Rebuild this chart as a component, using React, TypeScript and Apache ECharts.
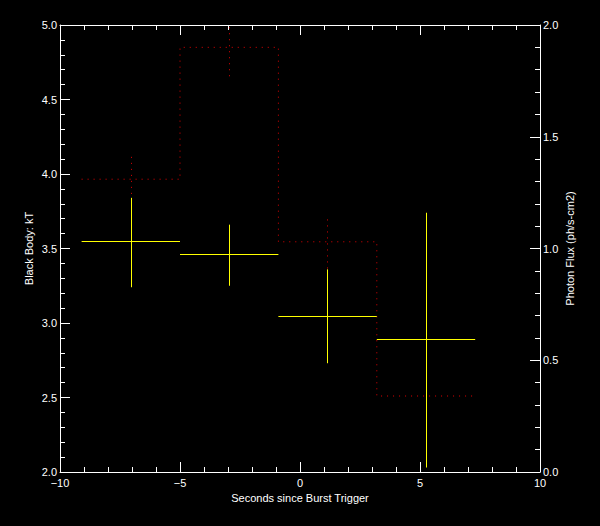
import React, { useEffect, useRef } from "react";
import * as echarts from "echarts";

// Time bins (seconds since burst trigger)
const binStart = [-9.1, -5.0, -0.9, 3.2];
const binEnd = [-5.0, -0.9, 3.2, 7.3];
const binCenter = [-7.03, -2.96, 1.12, 5.25];

// Black body kT (left axis)
const kT = [3.55, 3.46, 3.05, 2.89];
const kTLow = [3.24, 3.25, 2.73, 2.03];
const kTHigh = [3.84, 3.66, 3.36, 3.74];

// Photon flux (right axis)
const flux = [1.31, 1.9, 1.03, 0.34];
const fluxLow = [1.24, 1.77, 0.91, 0.3];
const fluxHigh = [1.41, 1.99, 1.13, 0.38];

const xTitle = "Seconds since Burst Trigger";
const yLeftTitle = "Black Body: kT";
const yRightTitle = "Photon Flux (ph/s-cm2)";

const FONT = "'Liberation Sans', Arial, sans-serif";
const crisp = (v: number) => Math.round(v) + 0.5;

export default function App() {
  const ref = useRef<HTMLDivElement>(null);

  useEffect(() => {
    document.body.style.margin = "0";
    document.body.style.background = "#000";
    const chart = echarts.init(ref.current!, null, { renderer: "svg" });

    const crossData = binCenter.map((c, i) => [c, kT[i], kTLow[i], kTHigh[i], binStart[i], binEnd[i]]);
    const fluxErrData = binCenter.map((c, i) => [c, flux[i], fluxLow[i], fluxHigh[i]]);
    const stepData: number[][] = [];
    binStart.forEach((s, i) => {
      stepData.push([s, flux[i]]);
      stepData.push([binEnd[i], flux[i]]);
    });

    const axisCommon = {
      axisLine: { show: true, onZero: false, lineStyle: { color: "#fff", width: 1 } },
      axisTick: { show: true, inside: true, length: 10, lineStyle: { color: "#fff" } },
      minorTick: { show: true, splitNumber: 5, length: 5, lineStyle: { color: "#fff" } },
      splitLine: { show: false },
      minorSplitLine: { show: false },
      nameMoveOverlap: false,
    };
    const labelStyle = { color: "#fff", fontFamily: FONT, fontSize: 11 };
    const signFmt = (v: number) => (v < 0 ? "\u2212" + Math.abs(v) : String(v));

    chart.setOption({
      animation: false,
      backgroundColor: "#000",
      grid: { left: 60, right: 60, top: 25, bottom: 54, containLabel: false },
      xAxis: [
        {
          type: "value",
          min: -10,
          max: 10,
          interval: 5,
          position: "bottom",
          ...axisCommon,
          axisLabel: { ...labelStyle, margin: 5, formatter: signFmt },
          name: xTitle,
          nameLocation: "middle",
          nameGap: 20,
          nameTextStyle: labelStyle,
        },
        {
          type: "value",
          min: -10,
          max: 10,
          interval: 5,
          position: "top",
          ...axisCommon,
          axisLabel: { show: false },
        },
      ],
      yAxis: [
        {
          type: "value",
          min: 2,
          max: 5,
          interval: 0.5,
          position: "left",
          ...axisCommon,
          axisLabel: { ...labelStyle, margin: 3, formatter: (v: number) => v.toFixed(1) },
          name: yLeftTitle,
          nameLocation: "middle",
          nameRotate: 90,
          nameGap: 26,
          nameTextStyle: labelStyle,
        },
        {
          type: "value",
          min: 0,
          max: 2,
          interval: 0.5,
          position: "right",
          ...axisCommon,
          axisLabel: { ...labelStyle, margin: 3, formatter: (v: number) => v.toFixed(1) },
          name: yRightTitle,
          nameLocation: "middle",
          nameRotate: 90,
          nameGap: 24,
          nameTextStyle: labelStyle,
        },
      ],
      series: [
        {
          type: "line",
          xAxisIndex: 0,
          yAxisIndex: 1,
          data: stepData,
          symbol: "none",
          lineStyle: { color: "#e00000", width: 1, type: [1, 5] },
          z: 1,
        },
        {
          type: "custom",
          xAxisIndex: 0,
          yAxisIndex: 1,
          data: fluxErrData,
          z: 2,
          renderItem: (params: any, api: any) => {
            const pT = api.coord([api.value(0), api.value(3)]);
            const pB = api.coord([api.value(0), api.value(2)]);
            return {
              type: "line",
              shape: { x1: crisp(pT[0]), y1: pT[1], x2: crisp(pB[0]), y2: pB[1] },
              style: { stroke: "#e00000", lineWidth: 1, lineDash: [1, 5] },
            };
          },
        },
        {
          type: "custom",
          xAxisIndex: 0,
          yAxisIndex: 0,
          data: crossData,
          z: 3,
          renderItem: (params: any, api: any) => {
            const pL = api.coord([api.value(4), api.value(1)]);
            const pR = api.coord([api.value(5), api.value(1)]);
            const pT = api.coord([api.value(0), api.value(3)]);
            const pB = api.coord([api.value(0), api.value(2)]);
            return {
              type: "group",
              children: [
                {
                  type: "line",
                  shape: { x1: pL[0], y1: crisp(pL[1]), x2: pR[0], y2: crisp(pR[1]) },
                  style: { stroke: "#ffff00", lineWidth: 1 },
                },
                {
                  type: "line",
                  shape: { x1: crisp(pT[0]), y1: pT[1], x2: crisp(pB[0]), y2: pB[1] },
                  style: { stroke: "#ffff00", lineWidth: 1 },
                },
              ],
            };
          },
        },
      ],
    });

    return () => chart.dispose();
  }, []);

  return (
    <div
      ref={ref}
      style={{ position: "absolute", left: 0, top: 0, width: 600, height: 526, background: "#000" }}
    />
  );
}
